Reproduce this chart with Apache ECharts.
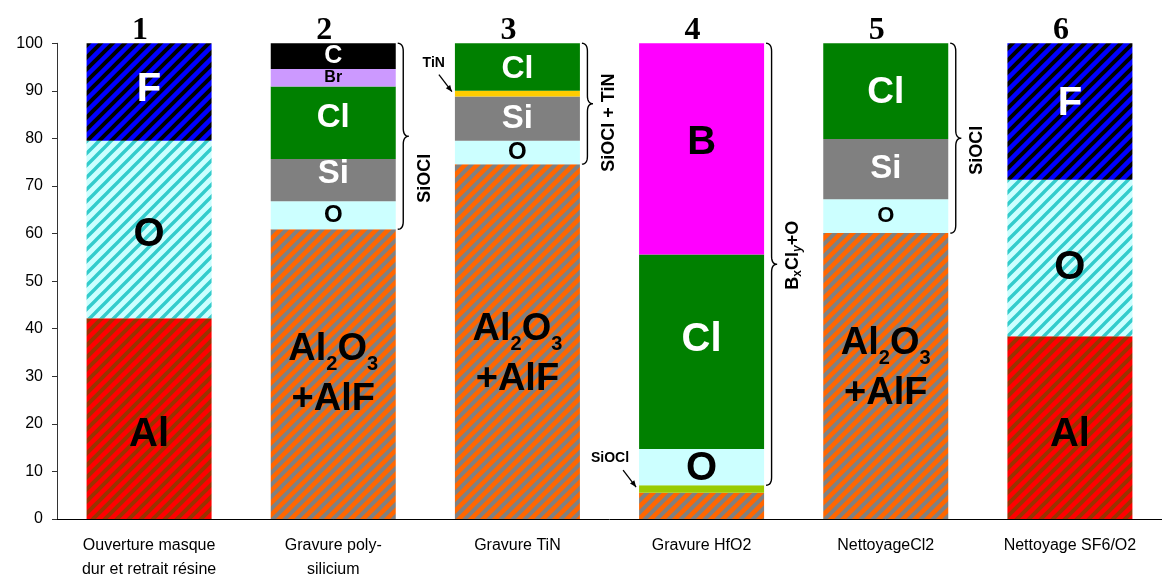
<!DOCTYPE html>
<html>
<head>
<meta charset="utf-8">
<script src="https://cdn.jsdelivr.net/npm/echarts@6/dist/echarts.min.js"></script>
<style>
  html, body { margin: 0; padding: 0; background: #fff; }
  #main { width: 1162px; height: 582px; }
</style>
</head>
<body>
<div id="main"></div>
<script>
// categories and step numbers
const categories = ['Ouverture masque\ndur et retrait résine', 'Gravure poly-\nsilicium', 'Gravure TiN', 'Gravure HfO2', 'NettoyageCl2', 'Nettoyage SF6/O2'];
const stepNumbers = ['1', '2', '3', '4', '5', '6'];

// composition (%), stacked bottom -> top
const alValues     = [42.2, null, null, null, null, 38.4];
const al2o3Values  = [null, 60.9, 74.6, 5.5, 60.1, null];
const sioclValues  = [null, null, null, 1.6, null, null];
const oValues      = [null, 5.9, 4.9, 7.6, 7.1, null];
const oHatchValues = [37.3, null, null, null, null, 32.9];
const siValues     = [null, 8.9, 9.3, null, 12.7, null];
const tinValues    = [null, null, 1.2, null, null, null];
const clValues     = [null, 15.2, 10.0, 40.9, 20.1, null];
const brValues     = [null, 3.7, null, null, null, null];
const bValues      = [null, null, null, 44.4, null, null];
const cValues      = [null, 5.4, null, null, null, null];
const fValues      = [20.5, null, null, null, null, 28.7];

const FONT = 'Arial, "Liberation Sans", sans-serif';
const BAR_W = 125;

// diagonal hatch tile (like excel "wide upward diagonal")
function stripes(bg, fg, lw) {
    const n = 12;
    const c = document.createElement('canvas');
    c.width = c.height = n;
    const g = c.getContext('2d');
    g.fillStyle = bg;
    g.fillRect(0, 0, n, n);
    g.strokeStyle = fg;
    g.lineWidth = lw;
    g.beginPath();
    g.moveTo(-3, n + 3); g.lineTo(n + 3, -3);
    g.moveTo(-3, 3); g.lineTo(3, -3);
    g.moveTo(n - 3, n + 3); g.lineTo(n + 3, n - 3);
    g.stroke();
    return { image: c, repeat: 'repeat' };
}

// per bar label tweaks : [fontSize, offsetY]
function makeData(values, tweaks) {
    return values.map((v, i) => {
        if (v == null) return null;
        const t = tweaks && tweaks[i];
        if (!t) return { value: v };
        return { value: v, label: { fontSize: t[0], offset: [0, t[1] || 0] } };
    });
}

function seg(name, values, color, label, tweaks) {
    return {
        name: name,
        type: 'bar',
        stack: 'total',
        barWidth: BAR_W,
        data: makeData(values, tweaks),
        itemStyle: { color: color },
        emphasis: { disabled: true },
        label: label ? Object.assign({
            show: true,
            position: 'inside',
            fontFamily: FONT,
            fontWeight: 'bold'
        }, label) : { show: false }
    };
}

let myChart = echarts.init(document.getElementById('main'));

let option = {
    backgroundColor: '#fff',
    animation: false,
    grid: { left: 57, top: 43.3, width: 1110, bottom: 62.7 },
    xAxis: [{
        type: 'category',
        data: categories,
        axisLine: { lineStyle: { color: '#000', width: 1 } },
        axisTick: { length: 7, lineStyle: { color: '#000' } },
        axisLabel: { color: '#000', fontFamily: FONT, fontSize: 16, lineHeight: 24, margin: 15, interval: 0 }
    }, {
        type: 'category',
        position: 'top',
        data: stepNumbers,
        axisLine: { show: false },
        axisTick: { show: false },
        axisLabel: {
            color: '#000', fontFamily: '"Liberation Serif", "Times New Roman", serif',
            fontWeight: 'bold', fontSize: 32, margin: -3, padding: [0, 18, 0, 0]
        }
    }],
    yAxis: {
        type: 'value',
        min: 0,
        max: 100,
        interval: 10,
        splitLine: { show: false },
        axisLine: { show: true, lineStyle: { color: '#333', width: 1 } },
        axisTick: { show: true, length: 5, lineStyle: { color: '#333' } },
        axisLabel: { color: '#000', fontFamily: FONT, fontSize: 16, margin: 14 }
    },
    series: [
        seg('Al', alValues, stripes('#ff0000', '#993300', 4), { formatter: 'Al', fontSize: 40, color: '#000' },
            { 0: [40, 16], 5: [40, 7] }),
        seg('Al2O3+AlF', al2o3Values, stripes('#ff6600', '#808080', 4), {
            formatter: p => p.dataIndex === 3 ? '' : '{a|Al}{s|2}{a|O}{s|3}\n{a|+AlF}',
            rich: {
                a: { fontFamily: FONT, fontWeight: 'bold', fontSize: 38, lineHeight: 50, color: '#000' },
                s: { fontFamily: FONT, fontWeight: 'bold', fontSize: 20, lineHeight: 32, verticalAlign: 'bottom', color: '#000' }
            }
        }, { 2: [38, 13], 4: [38, -8] }),
        seg('SiOCl', sioclValues, '#99cc00', null),
        seg('O', oValues, '#ccffff', { formatter: 'O', fontSize: 24, color: '#000' }, { 3: [40, 2], 4: [22, 0] }),
        seg('O ', oHatchValues, stripes('#ccffff', '#33cccc', 3.4), { formatter: 'O', fontSize: 40, color: '#000' },
            { 0: [40, 5], 5: [40, 10] }),
        seg('Si', siValues, '#808080', { formatter: 'Si', fontSize: 33, color: '#fff' }, { 1: [33, -6] }),
        seg('TiN', tinValues, '#ffcc00', null),
        seg('Cl', clValues, '#008000', { formatter: 'Cl', fontSize: 33, color: '#fff' },
            { 1: [33, -5], 2: [32, 2], 3: [40, -12], 4: [37, 2] }),
        seg('Br', brValues, '#cc99ff', { formatter: 'Br', fontSize: 16, color: '#000' }),
        seg('B', bValues, '#ff00ff', { formatter: 'B', fontSize: 40, color: '#000' }, { 3: [40, -6] }),
        seg('C', cValues, '#000000', { formatter: 'C', fontSize: 25, color: '#fff' }),
        seg('F', fValues, stripes('#0000ff', '#000000', 4), { formatter: 'F', fontSize: 40, color: '#fff' },
            { 0: [40, -2], 5: [40, -8] })
    ]
};
myChart.setOption(option);

// ---- braces and small annotations, placed from the data scale ----
const stacks = [alValues, al2o3Values, sioclValues, oValues, oHatchValues, siValues, tinValues, clValues, brValues, bValues, cValues, fValues];
function cum(i, upto) { // sum of the first `upto` layers of bar i
    let s = 0;
    for (let k = 0; k < upto; k++) s += stacks[k][i] || 0;
    return s;
}
function px(i, v) { return myChart.convertToPixel({ xAxisIndex: 0, yAxisIndex: 0 }, [i, v]); }

// quadratic curve sampled into points
function quad(p0, c, p1, out) {
    for (let t = 0; t <= 1.0001; t += 0.125) {
        const u = 1 - t;
        out.push([u * u * p0[0] + 2 * u * t * c[0] + t * t * p1[0], u * u * p0[1] + 2 * u * t * c[1] + t * t * p1[1]]);
    }
}
function bracePoints(x, y0, y1, w) {
    const m = (y0 + y1) / 2, h = w / 2, r = Math.min(8, (y1 - y0) / 6);
    let pts = [];
    quad([x, y0], [x + h, y0], [x + h, y0 + r], pts);
    quad([x + h, m - r], [x + h, m], [x + w, m], pts);
    quad([x + w, m], [x + h, m], [x + h, m + r], pts);
    quad([x + h, y1 - r], [x + h, y1], [x, y1], pts);
    return pts;
}

let graphics = [];
// bar index, lower value of the brace, label, label shift from brace middle
let braces = [
    [1, cum(1, 3), 'SiOCl', 42],
    [2, cum(2, 3), 'SiOCl + TiN', 19],
    [3, cum(3, 3), '{n|B}{s|x}{n|Cl}{i|y}{n|+O}', -9],
    [4, cum(4, 3), 'SiOCl', 12]
];
braces.forEach(b => {
    const top = px(b[0], 100), bot = px(b[0], b[1]);
    const x = top[0] + BAR_W / 2 + 2;
    graphics.push({
        type: 'polyline',
        shape: { points: bracePoints(x, top[1], bot[1], 11) },
        style: { fill: null, stroke: '#000', lineWidth: 1.4 }
    });
    graphics.push({
        type: 'text',
        x: x + 27,
        y: (top[1] + bot[1]) / 2 + b[3],
        rotation: Math.PI / 2,
        style: {
            text: b[2],
            font: 'bold 18px ' + FONT,
            fill: '#000',
            align: 'center',
            verticalAlign: 'middle',
            rich: {
                n: { fontFamily: FONT, fontWeight: 'bold', fontSize: 18, lineHeight: 22 },
                s: { fontFamily: FONT, fontWeight: 'bold', fontSize: 12, lineHeight: 14, verticalAlign: 'bottom' },
                i: { fontFamily: FONT, fontWeight: 'bold', fontStyle: 'italic', fontSize: 12, lineHeight: 14, verticalAlign: 'bottom' }
            }
        }
    });
});

// arrow with small bold text pointing at a thin layer
function pointer(i, layer, text) {
    const lo = cum(i, layer), hi = cum(i, layer + 1);
    const p = px(i, (lo + hi) / 2);
    const tx = p[0] - BAR_W / 2 - 3, ty = p[1] - 2;
    const sx = tx - 13, sy = ty - 17;
    const ang = Math.atan2(ty - sy, tx - sx);
    const a = 7;
    graphics.push({
        type: 'line',
        shape: { x1: sx, y1: sy, x2: tx, y2: ty },
        style: { stroke: '#000', lineWidth: 1.3 }
    });
    graphics.push({
        type: 'polygon',
        shape: { points: [[tx, ty],
            [tx - a * Math.cos(ang - 0.4), ty - a * Math.sin(ang - 0.4)],
            [tx - a * Math.cos(ang + 0.4), ty - a * Math.sin(ang + 0.4)]] },
        style: { fill: '#000' }
    });
    graphics.push({
        type: 'text',
        x: sx + 6,
        y: sy - 12,
        style: { text: text, font: 'bold 14px ' + FONT, fill: '#000', align: 'right', verticalAlign: 'middle' }
    });
}
pointer(2, 6, 'TiN');
pointer(3, 2, 'SiOCl');

myChart.setOption({ graphic: graphics });
</script>
</body>
</html>
